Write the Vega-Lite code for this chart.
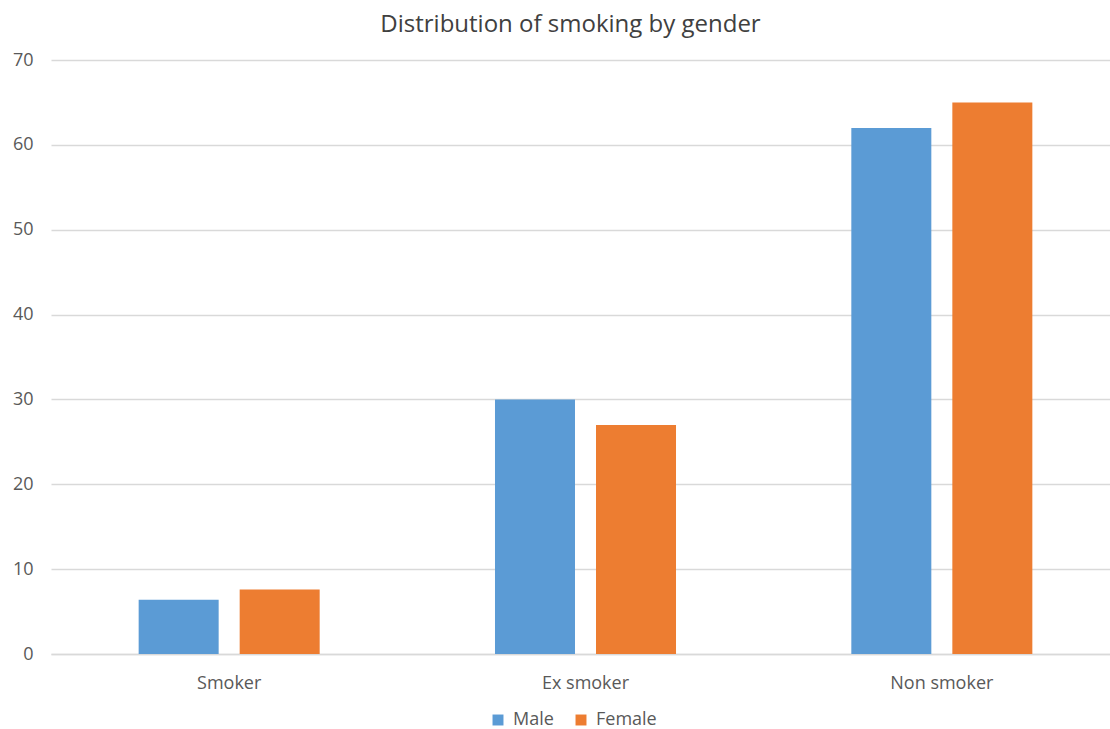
{
  "$schema": "https://vega.github.io/schema/vega-lite/v6.json",
  "autosize": {"type": "none"},
  "width": 1059,
  "height": 594,
  "padding": {"left": 51, "top": 60, "right": 0, "bottom": 75},
  "background": "white",
  "title": {
    "text": "Distribution of smoking by gender",
    "anchor": "middle",
    "frame": "group",
    "dx": -10,
    "offset": 14,
    "font": "Open Sans",
    "fontSize": 24,
    "fontWeight": "normal",
    "color": "#404040"
  },
  "data": {
    "values": [
      {"status": "Smoker", "gender": "Male", "value": 6.4},
      {"status": "Smoker", "gender": "Female", "value": 7.6},
      {"status": "Ex smoker", "gender": "Male", "value": 30},
      {"status": "Ex smoker", "gender": "Female", "value": 27},
      {"status": "Non smoker", "gender": "Male", "value": 62},
      {"status": "Non smoker", "gender": "Female", "value": 65}
    ]
  },
  "mark": {"type": "bar"},
  "encoding": {
    "x": {
      "field": "status",
      "type": "nominal",
      "sort": ["Smoker", "Ex smoker", "Non smoker"],
      "scale": {"paddingInner": 0.492, "paddingOuter": 0.246, "range": [0, 1069]},
      "axis": {
        "title": null,
        "labelAngle": 0,
        "ticks": false,
        "domain": true,
        "domainColor": "#d9d9d9",
        "domainWidth": 1.5,
        "labelPadding": 20,
        "labelFont": "Open Sans",
        "labelFontSize": 18,
        "labelColor": "#595959"
      }
    },
    "xOffset": {
      "field": "gender",
      "type": "nominal",
      "sort": ["Male", "Female"],
      "scale": {"paddingInner": 0.208, "paddingOuter": 0}
    },
    "y": {
      "field": "value",
      "type": "quantitative",
      "scale": {"domain": [0, 70], "nice": false},
      "axis": {
        "title": null,
        "values": [0, 10, 20, 30, 40, 50, 60, 70],
        "ticks": false,
        "domain": false,
        "gridColor": "#d9d9d9",
        "gridWidth": 1.5,
        "labelPadding": 18,
        "labelFont": "Open Sans",
        "labelFontSize": 18,
        "labelColor": "#595959"
      }
    },
    "color": {
      "field": "gender",
      "type": "nominal",
      "sort": ["Male", "Female"],
      "scale": {"domain": ["Male", "Female"], "range": ["#5b9bd5", "#ed7d31"]},
      "legend": {
        "title": null,
        "orient": "none",
        "direction": "horizontal",
        "legendX": 438,
        "legendY": 651,
        "symbolType": "square",
        "symbolSize": 120,
        "symbolStrokeWidth": 0,
        "labelFont": "Open Sans",
        "labelFontSize": 18,
        "labelColor": "#595959",
        "columnPadding": 18,
        "labelOffset": 6
      }
    }
  },
  "config": {"view": {"stroke": null}}
}
